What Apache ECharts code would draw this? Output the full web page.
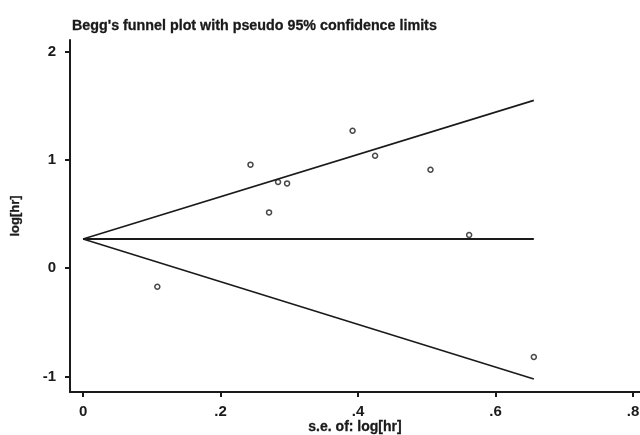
<!doctype html>
<html>
<head>
<meta charset="utf-8">
<script src="https://cdn.jsdelivr.net/npm/echarts@6/dist/echarts.min.js"></script>
<style>
    html, body {margin: 0;padding: 0;background: #fff;}
    #chart {width: 640px;height: 435px;}
</style>
</head>
<body>
<div id="chart"></div>
<script>
    // study points: s.e. of log[hr] and log[hr]
    var seValues = [0.108, 0.2435, 0.2705, 0.2836, 0.2967, 0.392, 0.4247, 0.5053, 0.5615, 0.6556];
    var logHr = [-0.171, 0.957, 0.516, 0.797, 0.784, 1.271, 1.040, 0.910, 0.307, -0.821];

    // pseudo 95% limits, read at both ends of the funnel
    var limitSe = [0, 0.6556];
    var pooled = [0.27, 0.27];
    var upperLimit = [0.27, 1.551];
    var lowerLimit = [0.27, -1.024];

    var xTicks = [0, 0.2, 0.4, 0.6, 0.8];
    var yTicks = [-1, 0, 1, 2];

    var points = [];
    for (var i = 0; i < seValues.length; i++) {
        points.push([seValues[i], logHr[i]]);
    }
    function pairs(ys) {
        return limitSe.map(function (x, k) { return [x, ys[k]]; });
    }

    var ink = '#1a1a1a';
    var font = '"Liberation Sans", Arial, sans-serif';

    var myChart = echarts.init(document.getElementById('chart'));
    var option = {
        animation: false,
        backgroundColor: '#fff',
        title: {
            text: "Begg's funnel plot with pseudo 95% confidence limits",
            left: 67,
            top: 14,
            textStyle: {color: ink, fontSize: 14.3, fontWeight: 'bold', fontFamily: font,
                textBorderColor: ink, textBorderWidth: 0.3}
        },
        grid: {left: 70, right: 0, top: 40, bottom: 43, containLabel: false, outerBoundsMode: 'none'},
        xAxis: {
            type: 'value',
            min: -0.019,
            max: 0.81,
            name: 's.e. of: log[hr]',
            nameLocation: 'middle',
            nameGap: 28,
            nameMoveOverlap: false,
            nameTextStyle: {color: ink, fontSize: 14, fontWeight: 'bold', fontFamily: font,
                textBorderColor: ink, textBorderWidth: 0.3},
            axisLine: {show: true, onZero: false, lineStyle: {color: ink, width: 2}},
            axisTick: {show: true, length: 5, customValues: xTicks, lineStyle: {color: ink, width: 2}},
            axisLabel: {
                customValues: xTicks,
                margin: 12,
                color: ink, fontSize: 15, fontWeight: 'bold', fontFamily: font,
                formatter: function (v) {
                    return String(+v.toFixed(1)).replace(/^0\./, '.');
                }
            },
            splitLine: {show: false}
        },
        yAxis: {
            type: 'value',
            min: -1.144,
            max: 2.109,
            name: 'log[hr]',
            nameLocation: 'middle',
            nameGap: 48,
            nameMoveOverlap: false,
            nameTextStyle: {color: ink, fontSize: 13, fontWeight: 'bold', fontFamily: font,
                textBorderColor: ink, textBorderWidth: 0.3},
            axisLine: {show: true, onZero: false, lineStyle: {color: ink, width: 2}},
            axisTick: {show: true, length: 5, customValues: yTicks, lineStyle: {color: ink, width: 2}},
            axisLabel: {
                customValues: yTicks,
                margin: 14,
                color: ink, fontSize: 15, fontWeight: 'bold', fontFamily: font
            },
            splitLine: {show: false}
        },
        series: [
            {
                type: 'line',
                data: pairs(upperLimit),
                symbol: 'none',
                lineStyle: {color: ink, width: 1.6}
            },
            {
                type: 'line',
                data: pairs(pooled),
                symbol: 'none',
                lineStyle: {color: ink, width: 2}
            },
            {
                type: 'line',
                data: pairs(lowerLimit),
                symbol: 'none',
                lineStyle: {color: ink, width: 1.6}
            },
            {
                type: 'scatter',
                data: points,
                symbol: 'circle',
                symbolSize: 5,
                itemStyle: {color: '#fff', borderColor: ink, borderWidth: 1.5}
            }
        ]
    };
    myChart.setOption(option);
</script>
</body>
</html>
